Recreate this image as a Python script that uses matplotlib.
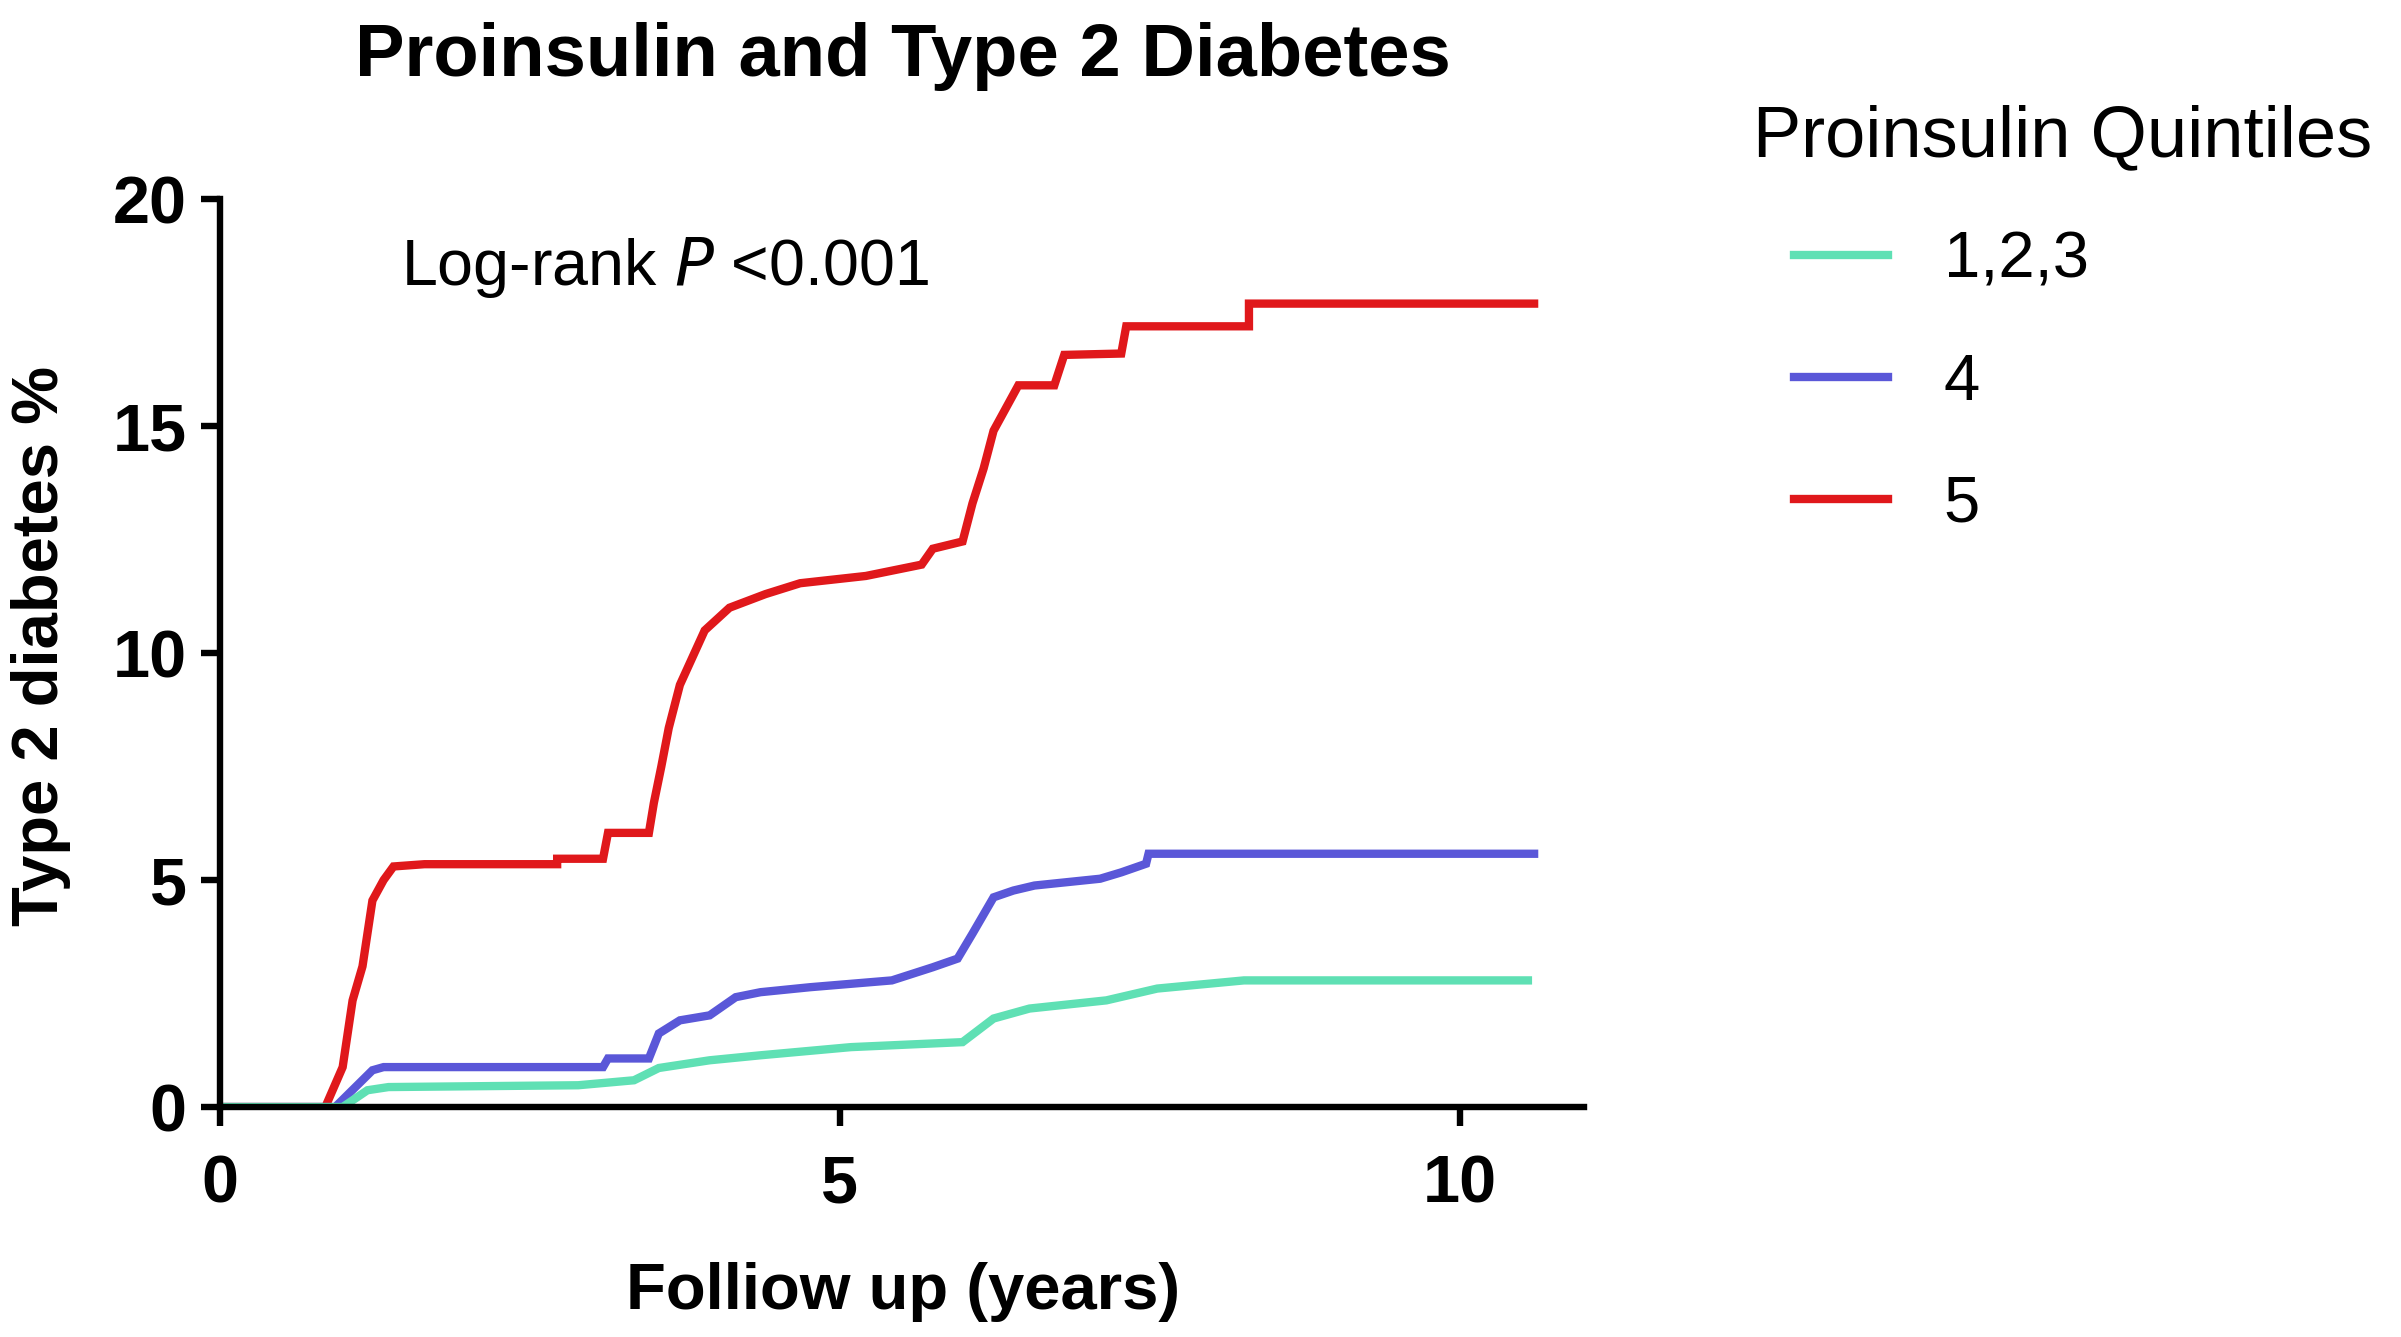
import matplotlib
matplotlib.use("Agg")
import matplotlib.pyplot as plt

# Kaplan-Meier style cumulative incidence
red_x = [0, 0.85, 0.99, 1.07, 1.15, 1.23, 1.32, 1.40, 1.65, 2.72, 2.72, 3.09, 3.13, 3.46, 3.50, 3.56, 3.62,
         3.71, 3.91, 4.11, 4.4, 4.68, 5.21, 5.66, 5.75, 5.99, 6.07, 6.16, 6.24, 6.44, 6.73, 6.81, 7.27, 7.31,
         8.30, 8.30, 10.6]
red_y = [0, 0, 0.88, 2.35, 3.1, 4.55, 5.0, 5.3, 5.35, 5.35, 5.47, 5.47, 6.04, 6.04, 6.7, 7.5, 8.35,
         9.3, 10.5, 11.0, 11.3, 11.54, 11.7, 11.95, 12.3, 12.46, 13.3, 14.07, 14.9, 15.9, 15.9, 16.57, 16.6, 17.2,
         17.2, 17.7, 17.7]

blue_x = [0, 0.93, 1.23, 1.32, 3.09, 3.13, 3.46, 3.54, 3.71, 3.95, 4.16, 4.36, 4.76, 5.42, 5.75, 5.95, 6.07,
          6.24, 6.40, 6.57, 7.10, 7.27, 7.47, 7.49, 10.6]
blue_y = [0, 0, 0.81, 0.88, 0.88, 1.07, 1.07, 1.62, 1.91, 2.02, 2.42, 2.53, 2.64, 2.79, 3.08, 3.27, 3.82,
          4.62, 4.77, 4.88, 5.03, 5.17, 5.36, 5.58, 5.58]

green_x = [0, 0.99, 1.19, 1.36, 2.89, 3.34, 3.54, 3.95, 4.36, 5.09, 5.99, 6.24, 6.53, 7.15, 7.56, 8.26, 10.55]
green_y = [0, 0, 0.37, 0.44, 0.48, 0.59, 0.86, 1.03, 1.14, 1.32, 1.43, 1.95, 2.17, 2.35, 2.61, 2.79, 2.79]

labels = ["1,2,3", "4", "5"]
colors = ["#5FE0B4", "#5A57D8", "#E0181B"]

plt.rcParams["font.family"] = ["Liberation Sans", "DejaVu Sans"]

fig = plt.figure(figsize=(24.01, 13.37), dpi=100)
ax = fig.add_axes([0.0916, 0.172, 0.568, 0.679])

lw = 6
l_red, = ax.plot(red_x, red_y, color=colors[2], lw=lw, solid_joinstyle="miter")
l_blue, = ax.plot(blue_x, blue_y, color=colors[1], lw=lw, solid_joinstyle="miter")
l_green, = ax.plot(green_x, green_y, color=colors[0], lw=lw, solid_joinstyle="miter")

ax.set_xlim(0, 11)
ax.set_ylim(0, 20)
ax.set_xticks([0, 5, 10])
ax.set_yticks([0, 5, 10, 15, 20])
for side in ("top", "right"):
    ax.spines[side].set_visible(False)
for side in ("left", "bottom"):
    ax.spines[side].set_linewidth(4.6)
ax.spines["left"].set_bounds(0, 20)
ax.tick_params(width=4.6, length=14, labelsize=48)
ax.tick_params(axis="x", pad=20)
ax.tick_params(axis="y", pad=10)
for lab in ax.get_xticklabels() + ax.get_yticklabels():
    lab.set_fontweight("bold")

ax.text(1.46, 18.5, "Log-rank $\\mathit{P}$ <0.001", fontsize=46.5, va="center", ha="left")

fig.text(0.376, 0.958, "Proinsulin and Type 2 Diabetes", fontsize=53.5, fontweight="bold",
         ha="center", va="center")
fig.text(0.376, 0.034, "Folliow up (years)", fontsize=47, fontweight="bold", ha="center", va="center")
fig.text(0.017, 0.517, "Type 2 diabetes %", fontsize=47, fontweight="bold", ha="center", va="center",
         rotation=90)

# legend title sits slightly left of the handles, as in the original
fig.text(0.730, 0.897, "Proinsulin Quintiles", fontsize=52, ha="left", va="center")
leg = ax.legend([l_green, l_blue, l_red], labels, loc="upper left",
                bbox_to_anchor=(1.130, 1.001), frameon=False, fontsize=47,
                handlelength=1.45, handletextpad=0.85, labelspacing=0.95, borderpad=0)
for h in leg.legend_handles:
    h.set_linewidth(6)

fig.savefig("out.png", dpi=100)
